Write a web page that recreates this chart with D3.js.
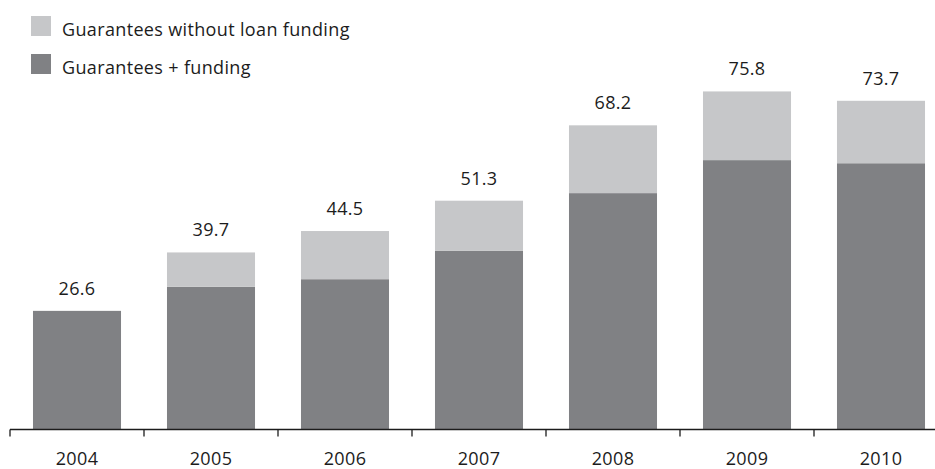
<!DOCTYPE html>
<html>
<head>
<meta charset="utf-8">
<script src="https://cdn.jsdelivr.net/npm/d3@7"></script>
<style>
  html, body { margin: 0; padding: 0; background: #fff; }
  svg { display: block; font-family: "Open Sans", "Noto Sans", sans-serif; }
</style>
</head>
<body>
<svg id="chart" width="935" height="469"></svg>
<script>
// Guarantee volumes by year, split into funded and unfunded parts
const years = ["2004", "2005", "2006", "2007", "2008", "2009", "2010"];
const guaranteesFunding = [26.6, 32.0, 33.7, 40.1, 53.0, 60.4, 59.7];
const guaranteesOnly = [0, 7.7, 10.8, 11.2, 15.2, 15.4, 14.0];
const totalLabels = ["26.6", "39.7", "44.5", "51.3", "68.2", "75.8", "73.7"];
const seriesNames = ["Guarantees without loan funding", "Guarantees + funding"];
const colors = { light: "#c6c7c9", dark: "#808184", text: "#1c1c1c" };

const svg = d3.select("#chart");
const baseY = 429.5;
const fontSize = 18;
const spacing = "0.35px";

const x = d3.scaleBand()
  .domain(years)
  .range([10, 948])
  .paddingInner(0.343)
  .paddingOuter(0.1715);

const y = d3.scaleLinear()
  .domain([0, 80])
  .range([baseY, baseY - 80 * 4.46]);

const rows = years.map((yr, i) => ({
  year: yr,
  funded: guaranteesFunding[i],
  unfunded: guaranteesOnly[i],
  label: totalLabels[i]
}));

const stack = d3.stack().keys(["funded", "unfunded"]);
const layers = stack(rows);
const fillFor = { funded: colors.dark, unfunded: colors.light };

svg.append("g").selectAll("g")
  .data(layers)
  .join("g")
  .attr("fill", d => fillFor[d.key])
  .selectAll("rect")
  .data(d => d.filter(s => s[1] - s[0] > 0))
  .join("rect")
  .attr("x", d => x(d.data.year))
  .attr("width", x.bandwidth())
  .attr("y", d => y(d[1]))
  .attr("height", d => y(d[0]) - y(d[1]));

// Total value above each bar
svg.append("g").selectAll("text")
  .data(rows)
  .join("text")
  .attr("x", d => x(d.year) + x.bandwidth() / 2)
  .attr("y", d => y(d.funded + d.unfunded) - 16)
  .attr("text-anchor", "middle")
  .attr("font-size", fontSize)
  .attr("letter-spacing", spacing)
  .attr("fill", colors.text)
  .text(d => d.label);

// Category axis: baseline with separator ticks between bars
const axis = svg.append("g");
const step = x.step();
axis.append("line")
  .attr("x1", 10).attr("x2", 935)
  .attr("y1", baseY).attr("y2", baseY)
  .attr("stroke", colors.text).attr("stroke-width", 1.3);
const sepX = years.map(yr => x(yr) + x.bandwidth() / 2 - step / 2);
axis.selectAll("line.sep")
  .data(sepX)
  .join("line")
  .attr("class", "sep")
  .attr("x1", d => d).attr("x2", d => d)
  .attr("y1", baseY).attr("y2", baseY + 7)
  .attr("stroke", colors.text).attr("stroke-width", 1.3);
axis.selectAll("text")
  .data(years)
  .join("text")
  .attr("x", d => x(d) + x.bandwidth() / 2)
  .attr("y", 464.5)
  .attr("text-anchor", "middle")
  .attr("font-size", fontSize)
  .attr("letter-spacing", spacing)
  .attr("fill", colors.text)
  .text(d => d);

// Legend
const legend = svg.append("g");
const legendItems = [
  { name: seriesNames[0], color: colors.light, y: 16 },
  { name: seriesNames[1], color: colors.dark, y: 54 }
];
legend.selectAll("rect")
  .data(legendItems)
  .join("rect")
  .attr("x", 31).attr("y", d => d.y)
  .attr("width", 20).attr("height", 20)
  .attr("fill", d => d.color);
legend.selectAll("text")
  .data(legendItems)
  .join("text")
  .attr("x", 62).attr("y", d => d.y + 19.5)
  .attr("font-size", fontSize)
  .attr("letter-spacing", spacing)
  .attr("fill", colors.text)
  .text(d => d.name);
</script>
</body>
</html>
